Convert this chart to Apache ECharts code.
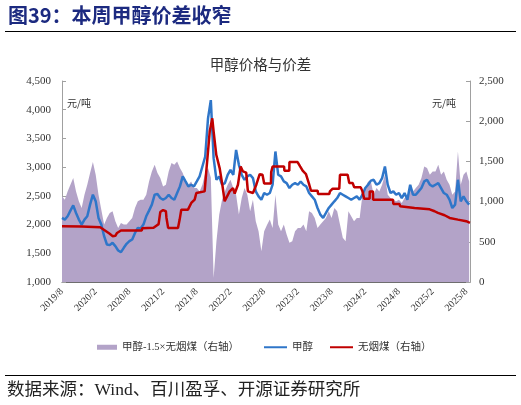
<!DOCTYPE html>
<html>
<head>
<meta charset="utf-8">
<script src="https://cdn.jsdelivr.net/npm/echarts@6/dist/echarts.min.js"></script>
<style>
html,body{margin:0;padding:0;background:#fff;}
#c{width:521px;height:405px;}
</style>
</head>
<body>
<div id="c"></div>
<script>
// x values: months since 2019/8, sampled twice a month
const tickLabels = ['2019/8','2020/2','2020/8','2021/2','2021/8','2022/2','2022/8','2023/2','2023/8','2024/2','2024/8','2025/2','2025/8'];

// 甲醇 (left axis)
const methanol = [
2116,2087,2144,2243,2335,2202,2087,2000,2087,2144,2347,2520,2405,2116,2000,1798,1653,1642,1682,1624,1549,1520,1595,1665,1711,1740,1855,1942,1931,2000,2144,2243,2347,2520,2532,2462,2433,2462,
2520,2462,2433,2549,2665,2838,2751,2665,2694,2665,2751,2838,3011,3185,3850,4167,3156,2780,2838,2694,2722,2867,2954,2867,3300,3040,2867,2780,2838,2867,2809,2578,2491,2433,2549,2520,
2549,2694,3272,2867,2838,2751,2722,2636,2694,2722,2694,2751,2694,2665,2549,2491,2433,2289,2173,2116,2202,2289,2347,2405,2462,2549,2520,2491,2462,2433,2462,2491,2433,2520,2636,2694,
2765,2780,2694,2722,2809,3011,2694,2549,2578,2520,2549,2462,2549,2433,2694,2520,2520,2578,2636,2751,2780,2694,2665,2694,2722,2636,2549,2520,2433,2289,2347,2780,2405,2491,2405,2347
];

// 甲醇-1.5×无烟煤 (right axis)
const spread = [
1066,1024,1127,1210,1293,1127,1004,921,1086,1210,1355,1491,1334,1086,900,714,797,859,880,756,673,735,714,714,756,797,921,1004,1024,1024,1086,1251,1375,1458,1355,1293,1189,1210,
1375,1479,1458,1499,1417,1355,1251,1210,1251,1169,1169,1127,1210,1355,1417,1300,54,508,838,1024,1127,1210,1272,1169,1086,838,1045,1169,1086,880,1024,756,632,384,632,710,
776,673,1086,714,632,714,590,487,508,632,673,673,714,632,880,859,797,673,714,756,797,880,797,921,880,714,549,508,880,818,756,797,797,1086,1169,1251,
1250,1086,1169,1127,1210,1334,1086,1045,1024,1004,1024,983,1045,1045,1210,1127,1169,1210,1293,1437,1417,1334,1375,1375,1458,1334,1375,1272,1210,1086,1127,1623,1210,1334,1375,1251
];

// 无烟煤 (right axis): months since 2019/8 and price
const coalMonths = [0,3.5,6.8,8.5,9.0,9.5,9.8,10.5,14.2,14.3,16.3,16.8,17.2,17.5,18.0,18.5,18.6,18.9,20.65,20.95,21.24,22.43,23.02,23.62,23.92,25.4,25.69,26.0,26.3,26.76,27.0,27.47,27.77,28.07,28.55,28.96,29.26,29.85,30.45,30.75,31.33,31.81,32.22,32.8,33.1,34.0,34.6,35.2,35.7,36.0,37.2,37.25,37.5,39.55,39.6,40.47,40.5,41.95,42.4,42.85,43.44,44.03,44.33,45.52,45.6,47.6,47.7,48.2,49.37,49.5,50.86,51.15,51.75,52.04,53.2,53.5,53.8,54.77,54.8,55.37,55.4,58.93,59.0,60.1,60.2,60.41,62.78,62.8,65.46,65.5,66.35,66.94,68.13,69.02,70.5,71.98,72.64];
const coalValues = [694,690,680,600,570,575,610,640,640,670,675,700,720,870,895,880,800,673,673,776,900,900,983,1024,1107,1127,1375,1623,1871,2036,1871,1582,1560,1417,1210,1004,983,1127,1169,1100,1210,1437,1375,1360,1127,1107,1210,1342,1334,1225,1225,1367,1437,1437,1384,1384,1491,1491,1437,1384,1342,1210,1136,1136,1094,1094,1127,1161,1161,1334,1334,1231,1231,1177,1177,1127,1037,1037,1127,1127,1024,1024,970,970,942,921,921,904,904,888,880,859,830,797,776,756,735];

const xMax = 72.65;
const serifNum = 'Liberation Serif, Noto Sans CJK SC';
const cjk = 'Noto Sans CJK SC';

const spreadData = spread.map((v, k) => [k / 2, v]);
const methanolData = methanol.map((v, k) => [k / 2, v]);
const coalData = coalValues.map((v, i) => [coalMonths[i], v]);

function monthLabel(v) {
  const idx = Math.round(v / 6);
  return tickLabels[idx] || '';
}
function comma(v) { return String(v).replace(/\B(?=(\d{3})+(?!\d))/g, ','); }

const legendText = {fontFamily: serifNum, fontSize: 10.5, color: '#333'};

const chart = echarts.init(document.getElementById('c'), null, {renderer: 'canvas'});
chart.setOption({
  animation: false,
  backgroundColor: '#fff',
  title: {
    text: '甲醇价格与价差',
    left: 'center', top: 52,
    textStyle: {fontFamily: cjk, fontSize: 14.5, fontWeight: 'normal', color: '#333'}
  },
  legend: [
    {
      left: 97, top: 342, padding: 0,
      itemWidth: 20, itemHeight: 5, itemGap: 20,
      textStyle: legendText,
      data: [{name: '甲醇-1.5×无烟煤（右轴）', icon: 'rect'}]
    },
    {
      left: 264, top: 342, padding: 0,
      itemWidth: 23, itemHeight: 2, itemGap: 17,
      textStyle: legendText,
      data: [{name: '甲醇', icon: 'rect'}, {name: '无烟煤（右轴）', icon: 'rect'}]
    }
  ],
  grid: {left: 62, right: 51, top: 81, bottom: 123},
  xAxis: {
    type: 'value', min: 0, max: xMax, interval: 6,
    axisLine: {lineStyle: {color: '#6e6e6e', width: 1}},
    axisTick: {inside: true, length: 4, lineStyle: {color: '#6e6e6e'}},
    splitLine: {show: false},
    axisLabel: {
      rotate: 45, margin: 8, fontFamily: serifNum, fontSize: 10, color: '#333',
      showMaxLabel: false,
      formatter: monthLabel
    }
  },
  yAxis: [
    {
      type: 'value', min: 1000, max: 4500, interval: 500, position: 'left',
      axisLine: {show: true, lineStyle: {color: '#a0a0a0'}},
      axisTick: {show: true, inside: true, length: 4, lineStyle: {color: '#a0a0a0'}},
      splitLine: {show: false},
      axisLabel: {margin: 11, fontFamily: serifNum, fontSize: 11, color: '#333', formatter: comma}
    },
    {
      type: 'value', min: 0, max: 2500, interval: 500, position: 'right',
      axisLine: {show: true, lineStyle: {color: '#a0a0a0'}},
      axisTick: {show: true, inside: true, length: 4, lineStyle: {color: '#a0a0a0'}},
      splitLine: {show: false},
      axisLabel: {margin: 9, fontFamily: serifNum, fontSize: 11, color: '#333', formatter: comma}
    }
  ],
  graphic: [
    {type: 'text', left: 8, top: 5, style: {text: '图39：本周甲醇价差收窄', fontFamily: cjk, fontWeight: 'bold', fontSize: 20, fill: '#1C2A80'}},
    {type: 'line', shape: {x1: 5, y1: 31.5, x2: 516, y2: 31.5}, style: {stroke: '#000', lineWidth: 1}},
    {type: 'line', shape: {x1: 5, y1: 375.5, x2: 516, y2: 375.5}, style: {stroke: '#000', lineWidth: 1}},
    {type: 'text', left: 7, top: 382, style: {text: '数据来源：Wind、百川盈孚、开源证券研究所', fontFamily: serifNum, fontSize: 17.5, fill: '#222'}},
    {type: 'text', left: 67, top: 98, style: {text: '元/吨', fontFamily: cjk, fontSize: 10, fill: '#333'}},
    {type: 'text', left: 432, top: 98, style: {text: '元/吨', fontFamily: cjk, fontSize: 10, fill: '#333'}}
  ],
  series: [
    {
      name: '甲醇-1.5×无烟煤（右轴）', type: 'line', yAxisIndex: 1,
      data: spreadData, symbol: 'none',
      lineStyle: {width: 0, color: '#B3A3C8'},
      itemStyle: {color: '#B3A3C8'},
      areaStyle: {color: '#B3A3C8', opacity: 1}
    },
    {
      name: '甲醇', type: 'line', yAxisIndex: 0,
      data: methanolData, symbol: 'none',
      lineStyle: {width: 2.5, color: '#2F76C9'},
      itemStyle: {color: '#2F76C9'}
    },
    {
      name: '无烟煤（右轴）', type: 'line', yAxisIndex: 1,
      data: coalData, symbol: 'none',
      lineStyle: {width: 2.5, color: '#C00000'},
      itemStyle: {color: '#C00000'}
    }
  ]
});
</script>
</body>
</html>
